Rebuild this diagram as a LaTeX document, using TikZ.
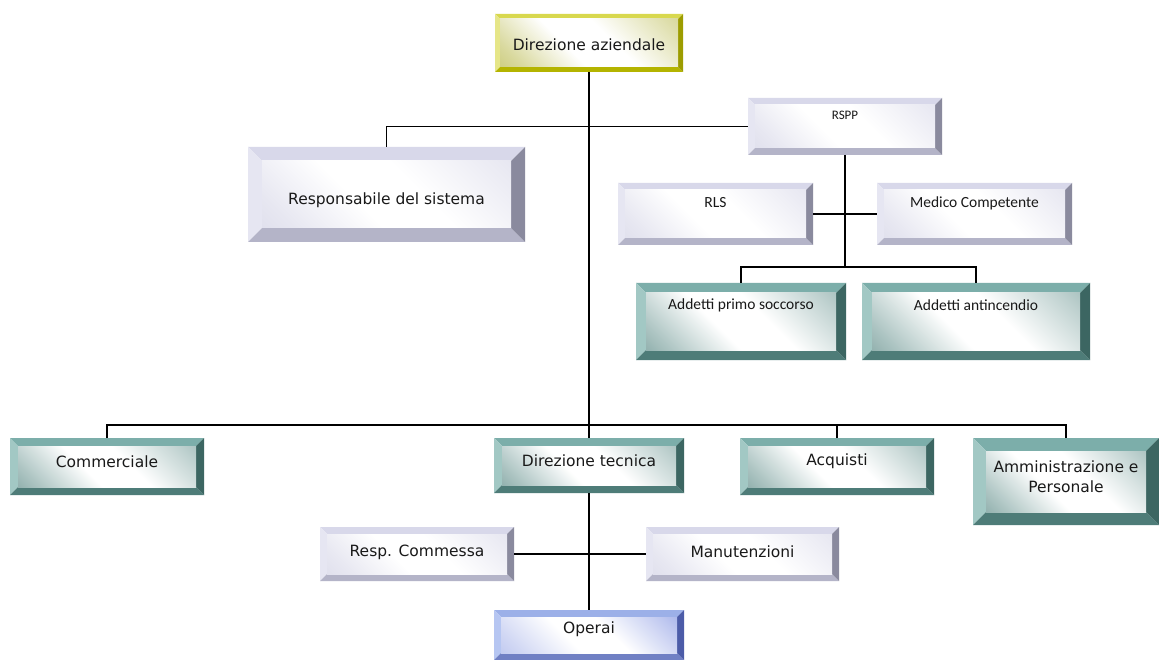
\documentclass[tikz,border=0pt]{standalone}
\usepackage{fontspec}
\usetikzlibrary{calc,fit}
\newfontfamily\tahfont{DejaVu Sans}
\newfontfamily\calfont{Carlito}
\definecolor{yelT}{HTML}{D8D84E}
\definecolor{yelL}{HTML}{E6E688}
\definecolor{yelB}{HTML}{B4B400}
\definecolor{yelR}{HTML}{9C9C00}
\definecolor{yelF}{HTML}{BABA50}
\definecolor{lavT}{HTML}{D8D8EA}
\definecolor{lavL}{HTML}{E6E6F2}
\definecolor{lavB}{HTML}{B4B4C8}
\definecolor{lavR}{HTML}{8A8A9E}
\definecolor{lavF}{HTML}{D4D4E6}
\definecolor{teaT}{HTML}{7CAEAA}
\definecolor{teaL}{HTML}{A2C8C4}
\definecolor{teaB}{HTML}{4E7C78}
\definecolor{teaR}{HTML}{3C6662}
\definecolor{teaF}{HTML}{5E8C88}
\definecolor{bluT}{HTML}{9CB0E8}
\definecolor{bluL}{HTML}{B6C6F2}
\definecolor{bluB}{HTML}{7080C4}
\definecolor{bluR}{HTML}{4C5CA8}
\definecolor{bluF}{HTML}{7E90E0}
\pgfdeclareverticalshading{yelsh}{100bp}{color(0bp)=(yelF); color(22bp)=(yelF!55!white); color(42bp)=(white); color(58bp)=(white); color(80bp)=(yelF!45!white); color(100bp)=(yelF!85!white)}
\pgfdeclareverticalshading{lavsh}{100bp}{color(0bp)=(lavF); color(22bp)=(lavF!55!white); color(42bp)=(white); color(58bp)=(white); color(80bp)=(lavF!45!white); color(100bp)=(lavF!85!white)}
\pgfdeclareverticalshading{teash}{100bp}{color(0bp)=(teaF); color(22bp)=(teaF!50!white); color(42bp)=(white); color(58bp)=(white); color(80bp)=(teaF!40!white); color(100bp)=(teaF!80!white)}
\pgfdeclareverticalshading{blush}{100bp}{color(0bp)=(bluF!70!white); color(22bp)=(bluF!35!white); color(42bp)=(white); color(58bp)=(white); color(80bp)=(bluF!50!white); color(100bp)=(bluF)}
\tikzset{
  conn/.style={draw=black, line width=1.8pt},
  boxfit/.style={inner sep=0pt, outer sep=0pt},
  bigtxt/.style={font=\tahfont\fontsize{15.5}{20}\selectfont, inner sep=0pt, align=center, text=black!90},
  smltxt/.style={font=\calfont\fontsize{15.5}{19}\selectfont, inner sep=0pt, align=center, text=black!90},
  tinytxt/.style={font=\calfont\fontsize{13}{16}\selectfont, inner sep=0pt, align=center, text=black!90},
}
% #1 name, #2 x1, #3 y1, #4 x2, #5 y2, #6 bevel, #7 palette, #8 text y, #9 text style
\newcommand\bevbox[9]{%
  \node[boxfit, fit={(#2,#3) (#4,#5)}] (#1) {};
  \fill[#7T] (#1.north west) -- (#1.north east) -- ([shift={(-#6pt,-#6pt)}]#1.north east) -- ([shift={(#6pt,-#6pt)}]#1.north west) -- cycle;
  \fill[#7L] (#1.north west) -- ([shift={(#6pt,-#6pt)}]#1.north west) -- ([shift={(#6pt,#6pt)}]#1.south west) -- (#1.south west) -- cycle;
  \fill[#7B] (#1.south west) -- (#1.south east) -- ([shift={(-#6pt,#6pt)}]#1.south east) -- ([shift={(#6pt,#6pt)}]#1.south west) -- cycle;
  \fill[#7R] (#1.north east) -- (#1.south east) -- ([shift={(-#6pt,#6pt)}]#1.south east) -- ([shift={(-#6pt,-#6pt)}]#1.north east) -- cycle;
  \shade[shading=#7sh, shading angle=-45]
    ([shift={(#6pt,-#6pt)}]#1.north west) rectangle ([shift={(-#6pt,#6pt)}]#1.south east);
  \node[#9] (#1-t) at ({(#2+#4)/2},#8)
}
\begin{document}
\begin{tikzpicture}[x=1pt,y=-1pt]
\useasboundingbox (0,0) rectangle (1159,660);
\fill[white] (0,0) rectangle (1159,660);

\coordinate (busA) at (845,267);
\coordinate (busB) at (589,425);

\bevbox{dirAz}{495}{14}{683}{72}{5}{yel}{45}{bigtxt}{Direzione aziendale};
\bevbox{resp}{248}{147}{525}{242}{14}{lav}{200}{bigtxt}{Responsabile del sistema};
\bevbox{rspp}{748}{98}{942}{155}{7}{lav}{115}{tinytxt}{RSPP};
\bevbox{rls}{618}{183}{813}{245}{7}{lav}{203}{smltxt}{RLS};
\bevbox{med}{877}{183}{1072}{245}{7}{lav}{203}{smltxt}{Medico Competente};
\bevbox{aps}{636}{283}{846}{360}{10}{tea}{305}{smltxt}{Addetti primo soccorso};
\bevbox{aai}{862}{283}{1090}{360}{10}{tea}{305}{smltxt}{Addetti antincendio};
\bevbox{comm}{10}{438}{204}{495}{8}{tea}{462}{bigtxt}{Commerciale};
\bevbox{dirTec}{494}{438}{684}{493}{8}{tea}{461}{bigtxt}{Direzione tecnica};
\bevbox{acq}{740}{438}{934}{495}{8}{tea}{461}{bigtxt}{Acquisti};
\bevbox{amm}{973}{438}{1159}{525}{13}{tea}{477}{bigtxt}{Amministrazione e\\Personale};
\bevbox{rc}{320}{527}{514}{581}{7}{lav}{552}{bigtxt}{Resp. Commessa};
\bevbox{man}{646}{527}{839}{581}{7}{lav}{552}{bigtxt}{Manutenzioni};
\bevbox{operai}{494}{610}{684}{660}{7}{blu}{629}{bigtxt}{Operai};

\draw[conn] (dirAz.south) -- (dirTec.north);
\draw[conn] (resp.north) |- (rspp.west);
\draw[conn] (rspp.south) -- (busA);
\draw[conn] (aps.north) |- (busA);
\draw[conn] (aai.north) |- (busA);
\draw[conn] (rls.east) -- (med.west);
\draw[conn] (comm.north) |- (busB);
\draw[conn] (acq.north) |- (busB);
\draw[conn] (amm.north) |- (busB);
\draw[conn] (dirTec.south) -- (operai.north);
\draw[conn] (rc.east) -- (man.west);
\end{tikzpicture}
\end{document}
